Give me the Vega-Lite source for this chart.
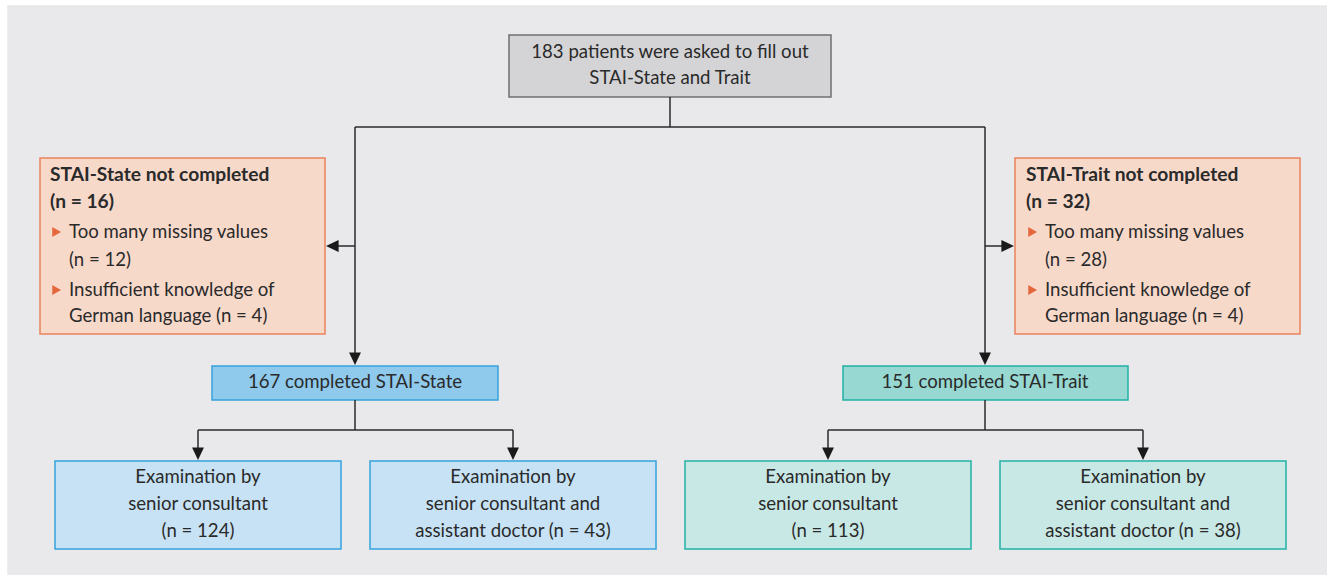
{
  "$schema": "https://vega.github.io/schema/vega-lite/v6.json",
  "width": 1327,
  "height": 575,
  "padding": 0,
  "autosize": {"type": "none"},
  "background": "#ffffff",
  "config": {"view": {"stroke": null}, "text": {"font": "Lato", "color": "#2a2a2a"}},
  "datasets": {
    "boxes": [
      {"kind": "panel", "x0": 8, "x1": 1340, "y0": 6, "y1": 590},
      {"kind": "start", "x0": 509, "x1": 831, "y0": 35, "y1": 97},
      {"kind": "excluded", "x0": 40, "x1": 325, "y0": 158, "y1": 334},
      {"kind": "excluded", "x0": 1015, "x1": 1300, "y0": 158, "y1": 334},
      {"kind": "state", "x0": 212, "x1": 498, "y0": 366, "y1": 400},
      {"kind": "trait", "x0": 843, "x1": 1128, "y0": 366, "y1": 400},
      {"kind": "stateSub", "x0": 55, "x1": 341, "y0": 461, "y1": 549},
      {"kind": "stateSub", "x0": 370, "x1": 656, "y0": 461, "y1": 549},
      {"kind": "traitSub", "x0": 685, "x1": 971, "y0": 461, "y1": 549},
      {"kind": "traitSub", "x0": 1000, "x1": 1286, "y0": 461, "y1": 549}
    ],
    "links": [
      {"x0": 670, "x1": 670, "y0": 97, "y1": 127},
      {"x0": 355, "x1": 985, "y0": 127, "y1": 127},
      {"x0": 355, "x1": 355, "y0": 127, "y1": 356},
      {"x0": 985, "x1": 985, "y0": 127, "y1": 356},
      {"x0": 336, "x1": 355, "y0": 246, "y1": 246},
      {"x0": 985, "x1": 1004, "y0": 246, "y1": 246},
      {"x0": 355, "x1": 355, "y0": 400, "y1": 430},
      {"x0": 198, "x1": 513, "y0": 430, "y1": 430},
      {"x0": 198, "x1": 198, "y0": 430, "y1": 452},
      {"x0": 513, "x1": 513, "y0": 430, "y1": 452},
      {"x0": 985, "x1": 985, "y0": 400, "y1": 430},
      {"x0": 828, "x1": 1143, "y0": 430, "y1": 430},
      {"x0": 828, "x1": 828, "y0": 430, "y1": 452},
      {"x0": 1143, "x1": 1143, "y0": 430, "y1": 452}
    ],
    "arrows": [
      {"dir": "left", "x": 326, "y": 246},
      {"dir": "right", "x": 1014, "y": 246},
      {"dir": "down", "x": 355, "y": 365},
      {"dir": "down", "x": 985, "y": 365},
      {"dir": "down", "x": 198, "y": 460},
      {"dir": "down", "x": 513, "y": 460},
      {"dir": "down", "x": 828, "y": 460},
      {"dir": "down", "x": 1143, "y": 460}
    ],
    "bullets": [
      {"x": 56, "y": 232},
      {"x": 56, "y": 290},
      {"x": 1032, "y": 232},
      {"x": 1032, "y": 290}
    ],
    "centerText": [
      {"x": 670, "y": 52, "label": "183 patients were asked to fill out"},
      {"x": 670, "y": 78, "label": "STAI-State and Trait"},
      {"x": 355, "y": 382, "label": "167 completed STAI-State"},
      {"x": 985, "y": 382, "label": "151 completed STAI-Trait"},
      {"x": 198, "y": 477, "label": "Examination by"},
      {"x": 198, "y": 504, "label": "senior consultant"},
      {"x": 198, "y": 531, "label": "(n = 124)"},
      {"x": 513, "y": 477, "label": "Examination by"},
      {"x": 513, "y": 504, "label": "senior consultant and"},
      {"x": 513, "y": 531, "label": "assistant doctor (n = 43)"},
      {"x": 828, "y": 477, "label": "Examination by"},
      {"x": 828, "y": 504, "label": "senior consultant"},
      {"x": 828, "y": 531, "label": "(n = 113)"},
      {"x": 1143, "y": 477, "label": "Examination by"},
      {"x": 1143, "y": 504, "label": "senior consultant and"},
      {"x": 1143, "y": 531, "label": "assistant doctor (n = 38)"}
    ],
    "boldText": [
      {"x": 50, "y": 175, "label": "STAI-State not completed"},
      {"x": 50, "y": 202, "label": "(n = 16)"},
      {"x": 1026, "y": 175, "label": "STAI-Trait not completed"},
      {"x": 1026, "y": 202, "label": "(n = 32)"}
    ],
    "leftText": [
      {"x": 69, "y": 232, "label": "Too many missing values"},
      {"x": 69, "y": 260, "label": "(n = 12)"},
      {"x": 69, "y": 290, "label": "Insufficient knowledge of"},
      {"x": 69, "y": 316, "label": "German language (n = 4)"},
      {"x": 1045, "y": 232, "label": "Too many missing values"},
      {"x": 1045, "y": 260, "label": "(n = 28)"},
      {"x": 1045, "y": 290, "label": "Insufficient knowledge of"},
      {"x": 1045, "y": 316, "label": "German language (n = 4)"}
    ]
  },
  "layer": [
    {
      "data": {"name": "boxes"},
      "mark": {"type": "rect", "strokeWidth": 1.5},
      "encoding": {
        "x": {"field": "x0", "type": "quantitative", "scale": {"domain": [0, 1327], "nice": false, "zero": false}, "axis": null},
        "x2": {"field": "x1"},
        "y": {"field": "y0", "type": "quantitative", "scale": {"domain": [0, 575], "nice": false, "zero": false, "reverse": true}, "axis": null},
        "y2": {"field": "y1"},
        "fill": {"field": "kind", "type": "nominal", "legend": null,
          "scale": {"domain": ["panel", "start", "excluded", "state", "trait", "stateSub", "traitSub"],
                    "range": ["#e9e9eb", "#d4d4d6", "#f7d9ca", "#8fc9ec", "#97d8d2", "#c6e2f4", "#c8e8e5"]}},
        "stroke": {"field": "kind", "type": "nominal", "legend": null,
          "scale": {"domain": ["panel", "start", "excluded", "state", "trait", "stateSub", "traitSub"],
                    "range": ["#e9e9eb", "#6f6f71", "#e9825c", "#35a2dc", "#22b1a6", "#35a2dc", "#22b1a6"]}}
      }
    },
    {
      "data": {"name": "links"},
      "mark": {"type": "rule", "color": "#2a2a2a", "strokeWidth": 1.5},
      "encoding": {
        "x": {"field": "x0", "type": "quantitative"},
        "x2": {"field": "x1"},
        "y": {"field": "y0", "type": "quantitative"},
        "y2": {"field": "y1"}
      }
    },
    {
      "data": {"name": "arrows"},
      "mark": {"type": "point", "filled": true, "opacity": 1, "color": "#1a1a1a", "size": 196},
      "encoding": {
        "x": {"field": "x", "type": "quantitative"},
        "y": {"field": "y", "type": "quantitative"},
        "shape": {"field": "dir", "type": "nominal", "legend": null,
          "scale": {"domain": ["down", "left", "right"],
                    "range": ["M0,0L-0.85,-1.8L0.85,-1.8Z", "M0,0L1.8,-0.85L1.8,0.85Z", "M0,0L-1.8,-0.85L-1.8,0.85Z"]}}
      }
    },
    {
      "data": {"name": "bullets"},
      "mark": {"type": "point", "filled": true, "opacity": 1, "color": "#e4683c", "size": 100, "shape": "M1,0L-0.75,-1L-0.75,1Z"},
      "encoding": {
        "x": {"field": "x", "type": "quantitative"},
        "y": {"field": "y", "type": "quantitative"}
      }
    },
    {
      "data": {"name": "centerText"},
      "mark": {"type": "text", "align": "center", "baseline": "middle", "fontSize": 18.6},
      "encoding": {
        "x": {"field": "x", "type": "quantitative"},
        "y": {"field": "y", "type": "quantitative"},
        "text": {"field": "label"}
      }
    },
    {
      "data": {"name": "boldText"},
      "mark": {"type": "text", "align": "left", "baseline": "middle", "fontSize": 19.2, "fontWeight": "bold"},
      "encoding": {
        "x": {"field": "x", "type": "quantitative"},
        "y": {"field": "y", "type": "quantitative"},
        "text": {"field": "label"}
      }
    },
    {
      "data": {"name": "leftText"},
      "mark": {"type": "text", "align": "left", "baseline": "middle", "fontSize": 18.6},
      "encoding": {
        "x": {"field": "x", "type": "quantitative"},
        "y": {"field": "y", "type": "quantitative"},
        "text": {"field": "label"}
      }
    }
  ]
}
